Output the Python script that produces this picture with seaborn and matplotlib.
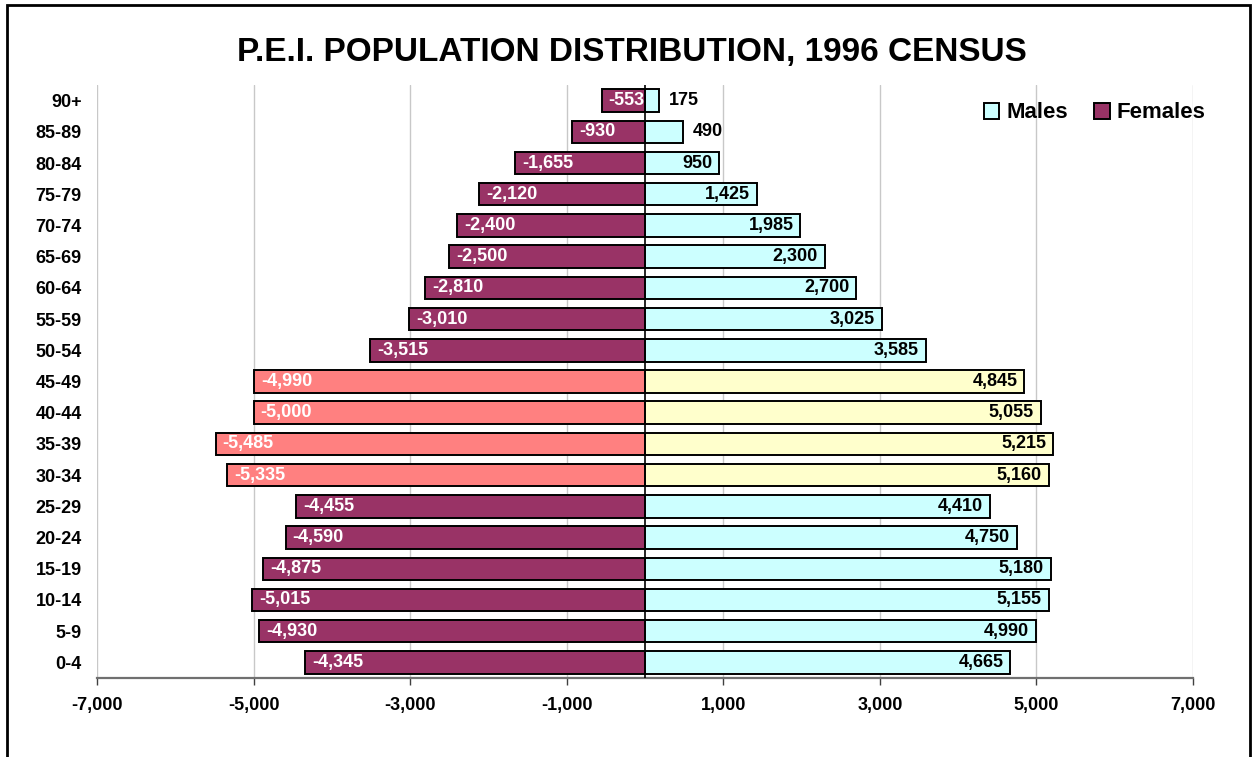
import matplotlib
matplotlib.use("Agg")
import matplotlib.pyplot as plt
import seaborn as sns
from matplotlib.patches import Patch, Rectangle
from matplotlib.ticker import FuncFormatter

# Age groups, oldest at the top
ages = ["90+", "85-89", "80-84", "75-79", "70-74", "65-69", "60-64", "55-59",
        "50-54", "45-49", "40-44", "35-39", "30-34", "25-29", "20-24", "15-19",
        "10-14", "5-9", "0-4"]
females = [-553, -930, -1655, -2120, -2400, -2500, -2810, -3010, -3515, -4990,
           -5000, -5485, -5335, -4455, -4590, -4875, -5015, -4930, -4345]
males = [175, 490, 950, 1425, 1985, 2300, 2700, 3025, 3585, 4845,
         5055, 5215, 5160, 4410, 4750, 5180, 5155, 4990, 4665]
highlight = ["45-49", "40-44", "35-39", "30-34"]
x_ticks = [-7000, -5000, -3000, -1000, 1000, 3000, 5000, 7000]

FEMALE = "#993366"
MALE = "#CCFFFF"
FEMALE_HI = "#FF8080"
MALE_HI = "#FFFFCC"

sns.set_theme(style="white")
plt.rcParams["font.family"] = ["Liberation Sans", "DejaVu Sans"]
plt.rcParams["font.weight"] = "bold"
plt.rcParams["text.color"] = "black"

fig = plt.figure(figsize=(12.54, 7.57), dpi=100)
ax = fig.add_axes([97 / 1254, 1 - 678 / 757, (1193 - 97) / 1254, (678 - 85) / 757])

female_pal = {a: (FEMALE_HI if a in highlight else FEMALE) for a in ages}
male_pal = {a: (MALE_HI if a in highlight else MALE) for a in ages}

sns.barplot(x=females, y=ages, hue=ages, palette=female_pal, order=ages,
            hue_order=ages, dodge=False, legend=False, width=0.72, saturation=1,
            edgecolor="black", linewidth=1.4, orient="h", ax=ax)
sns.barplot(x=males, y=ages, hue=ages, palette=male_pal, order=ages,
            hue_order=ages, dodge=False, legend=False, width=0.72, saturation=1,
            edgecolor="black", linewidth=1.4, orient="h", ax=ax)

ax.set_xlim(-7000, 7000)
ax.set_ylim(len(ages) - 0.5, -0.5)
ax.set_xticks(x_ticks)
ax.xaxis.set_major_formatter(FuncFormatter(lambda v, p: f"{v:,.0f}".replace("\u2212", "-")))
ax.set_xlabel("")
ax.set_ylabel("")

ax.xaxis.grid(True, color="#c8c8c8", lw=1)
ax.yaxis.grid(False)
ax.set_axisbelow(True)
ax.axvline(0, color="black", lw=1.2, zorder=3)

for side in ("left", "top", "right"):
    ax.spines[side].set_visible(False)
ax.spines["bottom"].set_color("#707070")
ax.spines["bottom"].set_linewidth(1.6)

ax.tick_params(axis="x", bottom=True, direction="out", length=5, width=1,
               color="#404040", pad=9, labelsize=13)
ax.tick_params(axis="y", left=False, length=0, pad=11, labelsize=13)
for lab in ax.get_xticklabels() + ax.get_yticklabels():
    lab.set_fontweight("bold")
    lab.set_color("black")

# Value labels
for i, (f, m) in enumerate(zip(females, males)):
    ax.annotate(f"{f:,}", (f, i), xytext=(5, 0), textcoords="offset points",
                ha="left", va="center", color="white", fontsize=13,
                fontweight="bold", zorder=5)
    if m < 500:
        ax.annotate(f"{m:,}", (m, i), xytext=(7, 0), textcoords="offset points",
                    ha="left", va="center", color="black", fontsize=13,
                    fontweight="bold", zorder=5)
    else:
        ax.annotate(f"{m:,}", (m, i), xytext=(-5, 0), textcoords="offset points",
                    ha="right", va="center", color="black", fontsize=13,
                    fontweight="bold", zorder=5)

handles = [Patch(facecolor=MALE, edgecolor="black", lw=1.4, label="Males"),
           Patch(facecolor=FEMALE, edgecolor="black", lw=1.4, label="Females")]
fig.legend(handles=handles, loc="center right",
           bbox_to_anchor=(1221 / 1254, 1 - 113 / 757), ncol=2, frameon=False,
           prop={"size": 16, "weight": "bold"}, labelcolor="black",
           handlelength=0.7, handleheight=0.7, handletextpad=0.3,
           columnspacing=1.2, borderpad=0.2)

fig.text(632 / 1254, 1 - 52 / 757, "P.E.I. POPULATION DISTRIBUTION, 1996 CENSUS",
         ha="center", va="center", fontsize=24, fontweight="bold", color="black")

fig.patches.append(Rectangle((7 / 1254, -0.05), (1250 - 7) / 1254, 1.05 - 5 / 757,
                             transform=fig.transFigure, fill=False,
                             edgecolor="black", lw=2))

fig.savefig("out.png", dpi=100)
